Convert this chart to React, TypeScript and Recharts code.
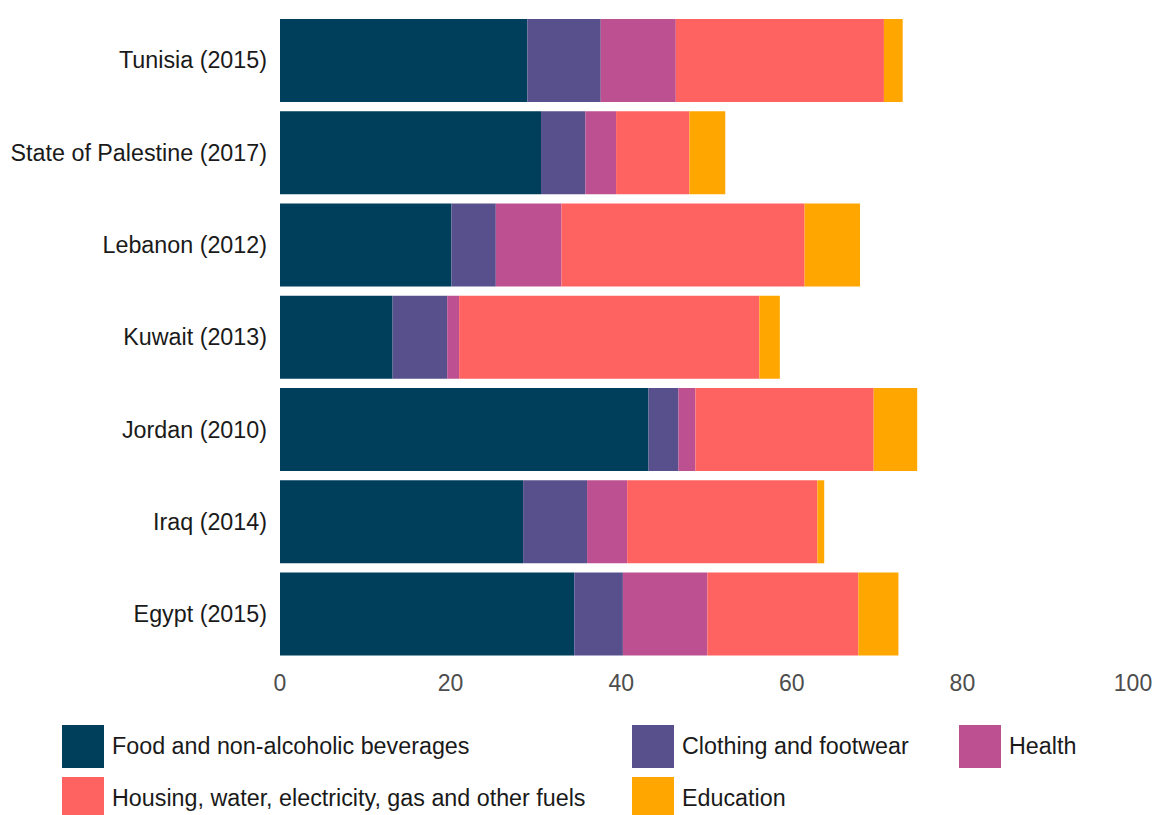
import { BarChart, Bar, XAxis, YAxis, Legend } from 'recharts'

const countries = [
  'Tunisia (2015)',
  'State of Palestine (2017)',
  'Lebanon (2012)',
  'Kuwait (2013)',
  'Jordan (2010)',
  'Iraq (2014)',
  'Egypt (2015)',
]

// shares of household expenditure, %
const food = [29.0, 30.6, 20.1, 13.2, 43.2, 28.5, 34.5]
const clothing = [8.6, 5.2, 5.2, 6.4, 3.5, 7.5, 5.7]
const health = [8.8, 3.6, 7.7, 1.4, 2.0, 4.7, 9.9]
const housing = [24.4, 8.6, 28.5, 35.2, 20.9, 22.3, 17.7]
const education = [2.2, 4.2, 6.5, 2.4, 5.1, 0.8, 4.7]

const xTicks = [0, 20, 40, 60, 80, 100]

const series = [
  { key: 'food', name: 'Food and non-alcoholic beverages', color: '#003f5c' },
  { key: 'clothing', name: 'Clothing and footwear', color: '#58508d' },
  { key: 'health', name: 'Health', color: '#bc5090' },
  { key: 'housing', name: 'Housing, water, electricity, gas and other fuels', color: '#ff6361' },
  { key: 'education', name: 'Education', color: '#ffa600' },
]

const data = countries.map((country, i) => ({
  country,
  food: food[i],
  clothing: clothing[i],
  health: health[i],
  housing: housing[i],
  education: education[i],
}))

const FONT = '"Liberation Sans", Arial, sans-serif'

function LegendGrid() {
  return (
    <div
      style={{
        height: 100,
        boxSizing: 'border-box',
        paddingTop: 10,
        paddingLeft: 62,
        display: 'grid',
        gridTemplateColumns: '570px 327px auto',
        gridAutoRows: 43,
        rowGap: 9,
        fontFamily: FONT,
        fontSize: 23.3,
        color: '#1a1a1a',
      }}
    >
      {series.map((s) => (
        <div key={s.key} style={{ display: 'flex', alignItems: 'center' }}>
          <span style={{ width: 42, height: 43, background: s.color, marginRight: 8, flexShrink: 0 }} />
          <span style={{ whiteSpace: 'nowrap' }}>{s.name}</span>
        </div>
      ))}
    </div>
  )
}

export default function App() {
  return (
    <div style={{ position: 'absolute', left: 0, top: 0, width: 1155, height: 815, background: '#fff', overflow: 'hidden' }}>
      <BarChart
        width={1155}
        height={815}
        data={data}
        layout="vertical"
        margin={{ top: 14, right: 22, bottom: 0, left: 0 }}
        barCategoryGap="5.3%"
        style={{ fontFamily: FONT }}
      >
        <XAxis
          type="number"
          domain={[0, 100]}
          ticks={xTicks}
          axisLine={false}
          tickLine={false}
          tickSize={0}
          tickMargin={15}
          height={55}
          tick={{ fill: '#4d4d4d', fontSize: 23, fontFamily: FONT }}
        />
        <YAxis
          type="category"
          dataKey="country"
          width={280}
          axisLine={false}
          tickLine={false}
          tickSize={0}
          tickMargin={13}
          tick={{ fill: '#1a1a1a', fontSize: 23.3, fontFamily: FONT }}
        />
        <Legend verticalAlign="bottom" wrapperStyle={{ left: 0 }} content={() => <LegendGrid />} />
        {series.map((s) => (
          <Bar key={s.key} dataKey={s.key} name={s.name} stackId="a" fill={s.color} isAnimationActive={false} />
        ))}
      </BarChart>
    </div>
  )
}
